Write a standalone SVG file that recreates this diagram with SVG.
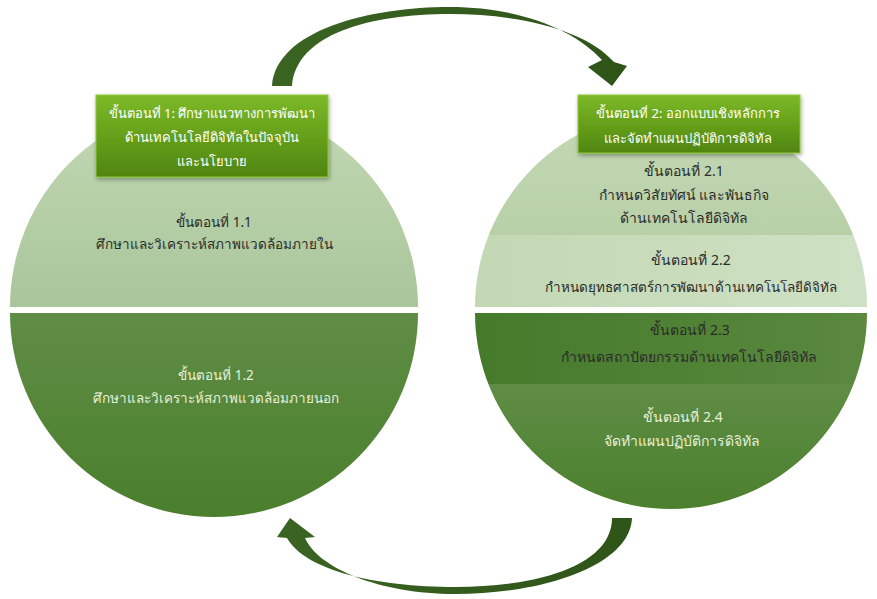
<svg xmlns="http://www.w3.org/2000/svg" width="877" height="599" viewBox="0 0 877 599">
  <defs>
    <linearGradient id="gLight" x1="0" y1="0" x2="0" y2="1">
      <stop offset="0" stop-color="#c3d9b4"/>
      <stop offset="1" stop-color="#a9c59a"/>
    </linearGradient>
    <linearGradient id="gLightR" x1="0" y1="0" x2="0" y2="1">
      <stop offset="0" stop-color="#c4dab6"/>
      <stop offset="1" stop-color="#b8d0a8"/>
    </linearGradient>
    <linearGradient id="gLight2" x1="0" y1="0" x2="1" y2="0">
      <stop offset="0" stop-color="#c2d8b3"/>
      <stop offset="1" stop-color="#cfe1c4"/>
    </linearGradient>
    <linearGradient id="gDark" x1="0" y1="0" x2="0" y2="1">
      <stop offset="0" stop-color="#5f8d45"/>
      <stop offset="1" stop-color="#4a7f2c"/>
    </linearGradient>
    <linearGradient id="gDark3" x1="0" y1="0" x2="1" y2="0">
      <stop offset="0" stop-color="#457a2b"/>
      <stop offset="1" stop-color="#5a893f"/>
    </linearGradient>
    <linearGradient id="gBox" x1="0" y1="0" x2="0" y2="1">
      <stop offset="0" stop-color="#7cb928"/>
      <stop offset="0.5" stop-color="#66a01a"/>
      <stop offset="1" stop-color="#4f8510"/>
    </linearGradient>
    <linearGradient id="gArrow" x1="0" y1="0" x2="1" y2="0">
      <stop offset="0" stop-color="#3b6423"/>
      <stop offset="1" stop-color="#2e5418"/>
    </linearGradient>
    <filter id="shadow" x="-10%" y="-10%" width="120%" height="130%">
      <feDropShadow dx="1" dy="2" stdDeviation="2" flood-color="#000" flood-opacity="0.35"/>
    </filter>
    <clipPath id="rTop"><path d="M475,307 A196,196 0 0 1 867,307 Z"/></clipPath>
    <clipPath id="rBot"><path d="M475,313 A196,196 0 0 0 867,313 Z"/></clipPath>
  </defs>
  <style>
    text { font-family: "Noto Sans", "DejaVu Sans", sans-serif; text-anchor: middle; font-size: 13px; }
    .box { fill: url(#gBox); stroke: #8fc63a; stroke-width: 1; filter: url(#shadow); }
    .boxt { fill: #ffffff; font-size: 13px; }
    .dk { fill: #2b2b2b; }
    .lt { fill: #e6f0da; }
    .s1 { font-size: 13.5px; }
    .s2 { font-size: 14px; }
    .arrow { fill: url(#gArrow); }
  </style>

  <g id="connectors">
    <path class="arrow" d="M272,86 C276,30 370,7 450,7 C520,7 575,30 602,60 L588,67 L612,86 L627,66 L614,62 C586,30 520,14 450,14 C370,14 296,34 292,86 Z"/>
    <path class="arrow" d="M632,518 C630,565 545,594 455,594 C380,594 318,568 305,538 L315,537 L290,518 L277,537 L287,538 C305,570 375,587 455,587 C540,587 612,565 612,518 Z"/>
  </g>

  <g id="circle1">
    <path d="M10,307 A204,204 0 0 1 418,307 Z" fill="url(#gLight)"/>
    <path d="M10,313 A204,204 0 0 0 418,313 Z" fill="url(#gDark)"/>
  </g>

  <g id="circle2">
    <g clip-path="url(#rTop)">
      <rect x="470" y="100" width="405" height="135" fill="url(#gLightR)"/>
      <rect x="470" y="235" width="405" height="72" fill="url(#gLight2)"/>
    </g>
    <g clip-path="url(#rBot)">
      <rect x="470" y="313" width="405" height="71" fill="url(#gDark3)"/>
      <rect x="470" y="384" width="405" height="130" fill="url(#gDark)"/>
    </g>
  </g>

  <g id="step1">
    <rect class="box" x="96" y="95" width="232" height="82"/>
    <text class="boxt" x="212" y="118">ขั้นตอนที่ 1: ศึกษาแนวทางการพัฒนา</text>
    <text class="boxt" x="212" y="142">ด้านเทคโนโลยีดิจิทัลในปัจจุบัน</text>
    <text class="boxt" x="212" y="166">และนโยบาย</text>
  </g>
  <g id="step1-1">
    <text class="dk s1" x="214" y="227">ขั้นตอนที่ 1.1</text>
    <text class="dk s1" x="214" y="249">ศึกษาและวิเคราะห์สภาพแวดล้อมภายใน</text>
  </g>
  <g id="step1-2">
    <text class="lt s1" x="216" y="380">ขั้นตอนที่ 1.2</text>
    <text class="lt s1" x="216" y="403">ศึกษาและวิเคราะห์สภาพแวดล้อมภายนอก</text>
  </g>

  <g id="step2">
    <rect class="box" x="578" y="95" width="222" height="58"/>
    <text class="boxt" x="688" y="118">ขั้นตอนที่ 2: ออกแบบเชิงหลักการ</text>
    <text class="boxt" x="688" y="143">และจัดทำแผนปฏิบัติการดิจิทัล</text>
  </g>
  <g id="step2-1">
    <text class="dk s2" x="684" y="176">ขั้นตอนที่ 2.1</text>
    <text class="dk s2" x="684" y="200">กำหนดวิสัยทัศน์ และพันธกิจ</text>
    <text class="dk s2" x="684" y="223">ด้านเทคโนโลยีดิจิทัล</text>
  </g>
  <g id="step2-2">
    <text class="dk s2" x="691" y="265">ขั้นตอนที่ 2.2</text>
    <text class="dk" x="691" y="292" style="font-size:13.5px">กำหนดยุทธศาสตร์การพัฒนาด้านเทคโนโลยีดิจิทัล</text>
  </g>
  <g id="step2-3">
    <text class="dk s2" x="690" y="335">ขั้นตอนที่ 2.3</text>
    <text class="dk s2" x="689" y="362">กำหนดสถาปัตยกรรมด้านเทคโนโลยีดิจิทัล</text>
  </g>
  <g id="step2-4">
    <text class="lt s2" x="683" y="422">ขั้นตอนที่ 2.4</text>
    <text class="lt" x="682" y="446" style="font-size:14px">จัดทำแผนปฏิบัติการดิจิทัล</text>
  </g>
</svg>
